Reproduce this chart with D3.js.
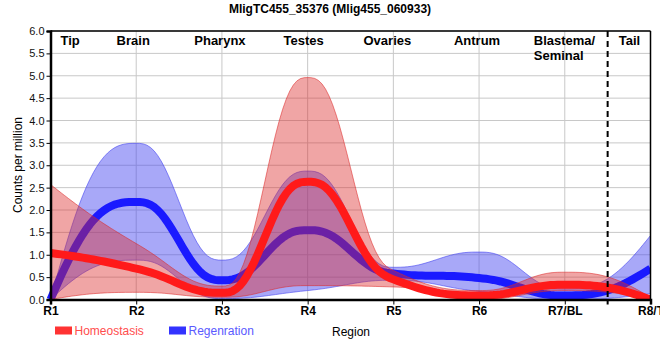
<!DOCTYPE html>
<html><head><meta charset="utf-8">
<script src="https://d3js.org/d3.v7.min.js"></script>
<style>body{margin:0;background:#fff}svg{display:block;font-family:"Liberation Sans",Arial,sans-serif}</style>
</head><body><svg id="c" width="660" height="360"></svg>
<script>
const regions = ["R1","R2","R3","R4","R5","R6","R7/BL","R8/T"];
const regionNames = ["Tip","Brain","Pharynx","Testes","Ovaries","Antrum","Blastema/|Seminal","Tail"];
const yTicks = [0,0.5,1,1.5,2,2.5,3,3.5,4,4.5,5,5.5,6];
const homeoMean = [1.04, 0.69, 0.15, 2.63, 0.45, 0.09, 0.33, 0.0];
const homeoLow  = [0.0, 0.16, 0.05, 0.31, 0.28, 0.0, 0.20, 0.0];
const homeoHigh = [2.57, 1.25, 0.30, 4.96, 0.65, 0.20, 0.61, 0.05];
const regenMean = [0.0, 2.18, 0.43, 1.55, 0.58, 0.48, 0.09, 0.69];
const regenLow  = [0.0, 0.88, 0.02, 0.20, 0.43, 0.18, 0.0, 0.13];
const regenHigh = [0.0, 3.49, 0.88, 2.87, 0.72, 1.06, 0.24, 1.43];

const svg = d3.select("#c");
const L = 50.5, R = 650.5, T = 31, B = 299.5;
const x = d3.scaleLinear().domain([0, regions.length-1]).range([L, R]);
const y = d3.scaleLinear().domain([0, 6]).range([B, T]);

// smooth monotone (quintic Hermite) interpolation of a series at fractional region index
function smooth(v, steps = 24) {
  const n = v.length, s = [], m = [];
  for (let i = 0; i < n-1; i++) s.push(v[i+1] - v[i]);
  for (let i = 1; i < n-1; i++) {
    const a = s[i-1], b = s[i];
    m[i] = (a * b <= 0) ? 0 : (Math.sign(a) + Math.sign(b)) * Math.min(Math.abs(a), Math.abs(b), 0.5 * Math.abs((a + b) / 2));
  }
  m[0] = 2 * s[0] - m[1];
  m[n-1] = 2 * s[n-2] - m[n-2];
  const out = [];
  for (let i = 0; i < n-1; i++) {
    for (let k = 0; k <= steps; k++) {
      if (i > 0 && k === 0) continue;
      const t = k / steps, t3 = t*t*t, t4 = t3*t, t5 = t4*t;
      const h0 = 1 - 10*t3 + 15*t4 - 6*t5, h1 = t - 6*t3 + 8*t4 - 3*t5;
      const h2 = -4*t3 + 7*t4 - 3*t5, h3 = 10*t3 - 15*t4 + 6*t5;
      out.push([i + t, h0*v[i] + h1*m[i] + h2*m[i+1] + h3*v[i+1]]);
    }
  }
  return out;
}

svg.append("clipPath").attr("id", "clip").append("rect")
  .attr("x", L - 6).attr("y", T).attr("width", R - L + 6).attr("height", B - T);

// grid
svg.append("g").selectAll("line").data(yTicks.slice(1)).join("line")
  .attr("x1", L).attr("x2", R).attr("y1", d=>y(d)).attr("y2", d=>y(d))
  .attr("stroke", "#c8c8c8").attr("stroke-width", 1);
svg.append("g").selectAll("line").data(d3.range(1, regions.length-1)).join("line")
  .attr("x1", d=>x(d)).attr("x2", d=>x(d)).attr("y1", T).attr("y2", B)
  .attr("stroke", "#c8c8c8").attr("stroke-width", 1);

const band = (lo, hi) => {
  const a = smooth(lo), b = smooth(hi);
  return d3.area().x(d=>x(d[0])).y0((d,i)=>y(Math.max(0, a[i][1]))).y1(d=>y(d[1]))(b);
};
const line = (m) => d3.line().x(d=>x(d[0])).y(d=>y(d[1]))(smooth(m));

const plot = svg.append("g").attr("clip-path", "url(#clip)");
plot.append("path").attr("d", band(regenLow, regenHigh))
  .attr("fill", "rgba(70,70,240,0.47)").attr("stroke", "rgba(70,70,240,0.6)").attr("stroke-width", 1);
plot.append("path").attr("d", line(regenMean))
  .attr("fill", "none").attr("stroke", "#1a1aff").attr("stroke-width", 8);
plot.append("path").attr("d", band(homeoLow, homeoHigh))
  .attr("fill", "rgba(220,40,40,0.42)").attr("stroke", "rgba(220,40,40,0.55)").attr("stroke-width", 1);
plot.append("path").attr("d", line(homeoMean))
  .attr("fill", "none").attr("stroke", "#ff1a1a").attr("stroke-width", 8);

// frame
svg.append("line").attr("x1", L).attr("x2", R).attr("y1", T).attr("y2", T).attr("stroke", "#000").attr("stroke-width", 1.5);
svg.append("line").attr("x1", R).attr("x2", R).attr("y1", T).attr("y2", B).attr("stroke", "#000").attr("stroke-width", 1.5);

// dashed separator
const xs = (x(6) + x(7)) / 2;
svg.append("line").attr("x1", xs).attr("x2", xs).attr("y1", T).attr("y2", B+5)
  .attr("stroke", "#000").attr("stroke-width", 2).attr("stroke-dasharray", "6,4");

// axes
const yAxis = d3.axisLeft(y).tickValues(yTicks).tickFormat(d3.format(".1f")).tickSize(4).tickPadding(2);
const gy = svg.append("g").attr("transform", `translate(${L},0)`).call(yAxis);
gy.select(".domain").attr("stroke-width", 2.5);
gy.selectAll("text").attr("font-size", 11).attr("font-family", "Liberation Sans, Arial, sans-serif").attr("fill", "#111");

const xAxis = d3.axisBottom(x).tickValues(d3.range(regions.length)).tickFormat(i=>regions[i]).tickSize(5).tickPadding(2);
const gx = svg.append("g").attr("transform", `translate(0,${B})`).call(xAxis);
gx.select(".domain").attr("stroke-width", 2.5);
gx.selectAll("text").attr("font-size", 12).attr("font-weight", "bold").attr("font-family", "Liberation Sans, Arial, sans-serif").attr("fill", "#000");

// region names
const nameX = [x(0)+10, x(1)-3, x(2)-2, x(3)-4, x(4)-6, x(5)-2, x(6)-31, x(7)-21];
const anchors = ["start","middle","middle","middle","middle","middle","start","middle"];
regionNames.forEach((n, i) => {
  const t = svg.append("text").attr("x", nameX[i]).attr("y", 45)
    .attr("font-size", 13).attr("font-weight", "bold").attr("text-anchor", anchors[i]);
  n.split("|").forEach((p, k) => t.append("tspan").attr("x", nameX[i]).attr("dy", k ? 15 : 0).text(p));
});

// title
svg.append("text").attr("x", 330).attr("y", 13).attr("text-anchor", "middle")
  .attr("font-size", 12).attr("font-weight", "bold").text("MligTC455_35376 (Mlig455_060933)");

// y label
svg.append("text").attr("transform", "translate(22,165) rotate(-90)").attr("text-anchor", "middle")
  .attr("font-size", 12).text("Counts per million");

// legend
const legend = [["Homeostasis", "#ff3333", "#ff4d4d", 55], ["Regenration", "#3333ff", "#5a5aff", 169]];
legend.forEach(([t, c, tc, lx]) => {
  svg.append("rect").attr("x", lx).attr("y", 326.5).attr("width", 17).attr("height", 8).attr("fill", c);
  svg.append("text").attr("x", lx+19.5).attr("y", 335).attr("font-size", 12).attr("fill", tc).text(t);
});
svg.append("text").attr("x", 351).attr("y", 336).attr("text-anchor", "middle").attr("font-size", 12).text("Region");
</script></body></html>
